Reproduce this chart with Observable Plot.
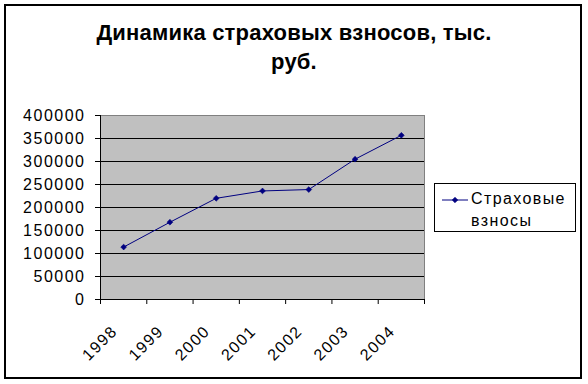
<!DOCTYPE html>
<html>
<head>
<meta charset="utf-8">
<script src="https://cdn.jsdelivr.net/npm/d3@7"></script>
<script src="https://cdn.jsdelivr.net/npm/@observablehq/plot@0.6"></script>
<style>
  html, body { margin: 0; padding: 0; background: #fff; }
  #wrap { position: relative; width: 588px; height: 384px; font-family: "Liberation Sans", Arial, sans-serif; color: #000; }
  #border { position: absolute; left: 4px; top: 4px; width: 574px; height: 371px; border: 2px solid #000; pointer-events: none; }
  #title { position: absolute; left: 0; top: 18px; width: 588px; text-align: center; font-weight: bold; font-size: 22px; line-height: 29px; letter-spacing: 0.2px; }
  #legend { position: absolute; left: 434px; top: 183px; width: 140px; height: 47px; border: 1px solid #000; background: #fff; }
  #legend svg { position: absolute; left: 6px; top: 9px; }
  #legend .lab { position: absolute; left: 36px; top: 4px; font-size: 16px; line-height: 22px; letter-spacing: 1.4px; white-space: nowrap; }
  #chart svg text { letter-spacing: 1.5px; }
  #chart { position: absolute; left: 0; top: 0; }
</style>
</head>
<body>
<div id="wrap">
  <div id="chart"></div>
  <div id="title">Динамика страховых взносов, тыс.<br>руб.</div>
  <div id="legend">
    <svg width="30" height="14"><line x1="1" y1="7" x2="27" y2="7" stroke="#000080" stroke-width="1"/><path d="M14,4.2L16.8,7L14,9.8L11.2,7Z" fill="#000080" stroke="#000080" stroke-width="0.6"/></svg>
    <div class="lab">Страховые<br>взносы</div>
  </div>
  <div id="border"></div>
</div>
<script>
const years = ["1998", "1999", "2000", "2001", "2002", "2003", "2004"];
const values = [114000, 168000, 220000, 236000, 239000, 305000, 357000];
const yTicks = [0, 50000, 100000, 150000, 200000, 250000, 300000, 350000, 400000];
const seriesName = "Страховые взносы";

const data = years.map((y, i) => ({pos: i + 0.5, year: y, value: values[i]}));
const boundaries = d3.range(years.length + 1);

const chart = Plot.plot({
  width: 588,
  height: 384,
  marginLeft: 100,
  marginRight: 164,
  marginTop: 115,
  marginBottom: 85,
  style: {fontFamily: "'Liberation Sans', Arial, sans-serif", fontSize: "16px", background: "transparent", color: "#000"},
  x: {domain: [0, years.length]},
  y: {domain: [0, 400000]},
  marks: [
    Plot.frame({fill: "#c0c0c0", stroke: "#808080"}),
    Plot.gridY(yTicks.slice(1, -1), {stroke: "#000", strokeOpacity: 1}),
    Plot.ruleY([0], {stroke: "#000"}),
    Plot.ruleX([0], {stroke: "#000"}),
    Plot.axisY(yTicks, {tickSize: 5, tickPadding: 10, tickFormat: d => String(d), label: null}),
    Plot.axisX(boundaries, {tickSize: 5, tickFormat: () => "", label: null}),
    Plot.axisX(data.map(d => d.pos), {tickSize: 0, tickPadding: 29, tickRotate: -45, dx: -9, tickFormat: (d, i) => years[i], label: null}),
    Plot.line(data, {x: "pos", y: "value", stroke: "#000080", strokeWidth: 1}),
    Plot.dot(data, {x: "pos", y: "value", symbol: "diamond2", fill: "#000080", stroke: "#000080", strokeWidth: 0.6, r: 2.6})
  ]
});
document.getElementById("chart").appendChild(chart);
</script>
</body>
</html>
